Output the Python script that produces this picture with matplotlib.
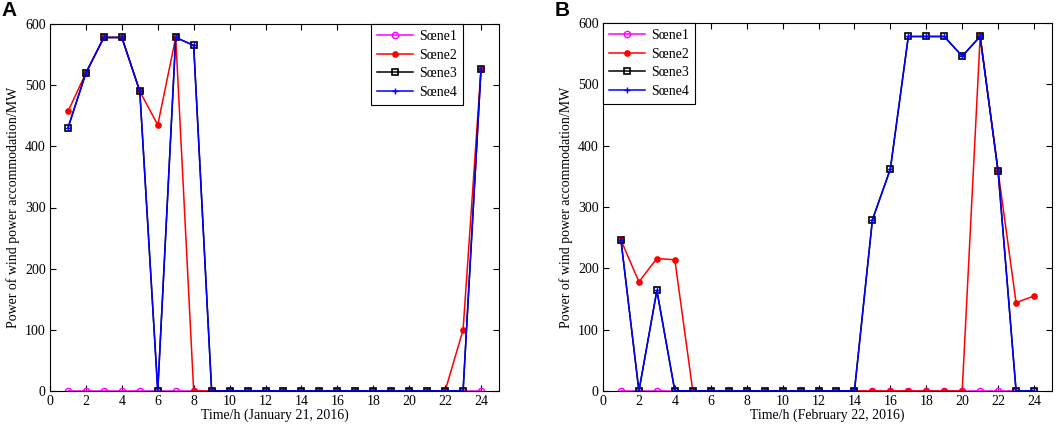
import matplotlib
matplotlib.use("Agg")
import matplotlib.pyplot as plt

hours = list(range(1, 25))

# Panel A (January 21, 2016)
a_scene1 = [0] * 24
a_scene2 = [457, 520, 578, 578, 490, 435, 578, 0, 0, 0, 0, 0, 0, 0, 0, 0, 0, 0, 0, 0, 0, 0, 100, 527]
a_scene3 = [430, 520, 578, 578, 490, 0, 578, 565, 0, 0, 0, 0, 0, 0, 0, 0, 0, 0, 0, 0, 0, 0, 0, 527]
a_scene4 = [430, 520, 578, 578, 490, 0, 578, 565, 0, 0, 0, 0, 0, 0, 0, 0, 0, 0, 0, 0, 0, 0, 0, 527]

# Panel B (February 22, 2016)
b_scene1 = [0] * 24
b_scene2 = [246, 178, 216, 214, 0, 0, 0, 0, 0, 0, 0, 0, 0, 0, 0, 0, 0, 0, 0, 0, 578, 358, 144, 155]
b_scene3 = [246, 0, 164, 0, 0, 0, 0, 0, 0, 0, 0, 0, 0, 0, 279, 362, 578, 578, 578, 546, 578, 358, 0, 0]
b_scene4 = [246, 0, 164, 0, 0, 0, 0, 0, 0, 0, 0, 0, 0, 0, 279, 362, 578, 578, 578, 546, 578, 358, 0, 0]

legend_labels = ["Sœne1", "Sœne2", "Sœne3", "Sœne4"]
xticks = list(range(0, 25, 2))
yticks = list(range(0, 601, 100))
xlabels = ["Time/h (January 21, 2016)", "Time/h (February 22, 2016)"]
ylabel = "Power of wind power accommodation/MW"
panel_tags = ["A", "B"]

plt.rcParams['font.family'] = ['Liberation Serif', 'DejaVu Serif']
plt.rcParams['font.size'] = 10

fig = plt.figure(figsize=(10.59, 4.26), dpi=100)
W, H = 1059, 426
axA = fig.add_axes([50 / W, 1 - 391 / H, 449 / W, 367 / H])
axB = fig.add_axes([603 / W, 1 - 391 / H, 449 / W, 368 / H])

def draw(ax, s1, s2, s3, s4, xlabel, legend_kw):
    ax.plot(hours, s1, color='#ff00ff', lw=1.1, marker='o', ms=4.5, mfc='none', mec='#ff00ff', mew=1.0, label=legend_labels[0])
    ax.plot(hours, s2, color='#ff0000', lw=1.1, marker='o', ms=3.8, mfc='#ff0000', mec='#ff0000', label=legend_labels[1])
    ax.plot(hours, s3, color='black', lw=1.1, marker='s', ms=4.8, mfc='none', mec='black', mew=1.2, label=legend_labels[2])
    ax.plot(hours, s4, color='#0000ff', lw=1.1, marker='+', ms=5, mec='#0000ff', mew=1.0, label=legend_labels[3])
    ax.set_xlim(0, 25)
    ax.set_ylim(0, 600)
    ax.set_xticks(xticks)
    ax.set_yticks(yticks)
    ax.tick_params(direction='in', top=True, right=True, length=4, width=0.8, labelsize=10, pad=3)
    ax.set_xlabel(xlabel, fontsize=10, labelpad=0)
    ax.set_ylabel(ylabel, fontsize=10, labelpad=4)
    for sp in ax.spines.values():
        sp.set_linewidth(0.8)
    leg = ax.legend(fancybox=False, edgecolor='black', framealpha=1, borderaxespad=0,
                    handlelength=2.6, fontsize=10, labelspacing=0.4, handletextpad=0.4,
                    borderpad=0.45, **legend_kw)
    leg.get_frame().set_linewidth(0.8)

draw(axA, a_scene1, a_scene2, a_scene3, a_scene4, xlabels[0],
     dict(loc='upper right', bbox_to_anchor=(0.92, 1.0)))
draw(axB, b_scene1, b_scene2, b_scene3, b_scene4, xlabels[1],
     dict(loc='upper left', bbox_to_anchor=(0.0, 1.0)))

fig.text(1 / W, 1 - 1 / H, panel_tags[0], fontsize=15, fontweight='bold',
         family=['Liberation Sans', 'DejaVu Sans'], va='top', ha='left')
fig.text(555 / W, 1 - 1 / H, panel_tags[1], fontsize=15, fontweight='bold',
         family=['Liberation Sans', 'DejaVu Sans'], va='top', ha='left')

fig.savefig("out.png", dpi=100)
